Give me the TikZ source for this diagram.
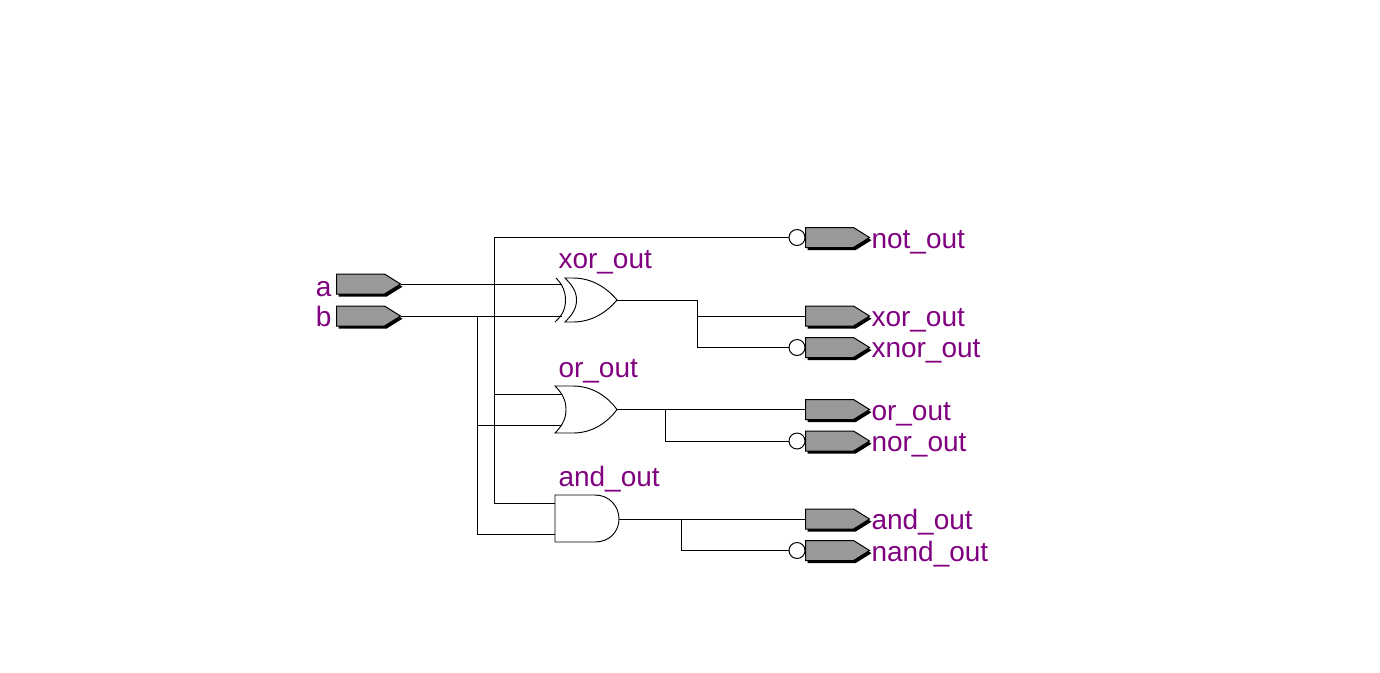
\documentclass[tikz,border=0pt]{standalone}
\usepackage{fontspec}
\setmainfont{Liberation Sans}
\usetikzlibrary{shapes.symbols,shadows}

\definecolor{netname}{RGB}{128,0,128}
\definecolor{portgray}{RGB}{153,153,153}

\begin{document}
\begin{tikzpicture}[x=0.75pt,y=-0.75pt,line width=0.75pt]
\tikzstyle{port}=[draw, fill=portgray, shape=signal, signal to=east, signal from=nowhere, signal pointer angle=64, minimum width=48pt, minimum height=15pt, inner sep=0pt, general shadow={fill=black, shadow xshift=1.5pt, shadow yshift=-2pt}]
\tikzstyle{bubble}=[draw, circle, minimum size=12pt, inner sep=0pt]
\tikzstyle{netlabel}=[text=netname, font=\fontsize{21}{21}\selectfont, inner sep=0pt]
\tikzstyle{gate}=[line width=0.7pt]

\useasboundingbox (0,0) rectangle (1380,672);

% inputs
\draw (336,284) node[port, anchor=west] (a) {};
\draw (336,316) node[port, anchor=west] (b) {};
\draw (332,296) node[netlabel, anchor=base east] (alabel) {a};
\draw (332,326) node[netlabel, anchor=base east] (blabel) {b};

% xor gate
\coordinate (xorin1) at (561.5,284);
\coordinate (xorin2) at (561.5,316);
\coordinate (xorout) at (617,300);
\draw[gate] (565,278) -- (573,278) .. controls (592,278) and (607,288) .. (xorout) .. controls (607,312) and (592,322) .. (573,322) -- (565,322) .. controls (573,314) and (576.5,308) .. (576.5,300) .. controls (576.5,292) and (573,286) .. cycle;
\draw[gate] (556,278) .. controls (563,285) and (565.5,292) .. (565.5,300) .. controls (565.5,308) and (563,315) .. (555,322);

% or gate
\coordinate (orin1) at (562,394);
\coordinate (orin2) at (562,425);
\coordinate (orout) at (617,409.5);
\draw[gate] (555,386) -- (573,386) .. controls (592,386) and (607,396) .. (orout) .. controls (607,423) and (592,433) .. (573,433) -- (555,433) .. controls (563,425) and (566,418) .. (566,409.5) .. controls (566,401) and (563,394) .. cycle;

% and gate
\coordinate (andin1) at (555,503.5);
\coordinate (andin2) at (555,534.5);
\coordinate (andout) at (619,519);
\draw[gate] (555,495) -- (595,495) .. controls (610,495) and (619,507) .. (andout) .. controls (619,531) and (610,542) .. (595,542) -- (555,542) -- cycle;

\draw (558,268) node[netlabel, anchor=base west] (xorlabel) {xor\_out};
\draw (558,377.5) node[netlabel, anchor=base west] (orlabel) {or\_out};
\draw (558,486.5) node[netlabel, anchor=base west] (andlabel) {and\_out};

% outputs
\draw (805,237.5) node[port, anchor=west] (notpin) {};
\draw (805,316) node[port, anchor=west] (xorpin) {};
\draw (805,347.5) node[port, anchor=west] (xnorpin) {};
\draw (805,409.5) node[port, anchor=west] (orpin) {};
\draw (805,441) node[port, anchor=west] (norpin) {};
\draw (805,519) node[port, anchor=west] (andpin) {};
\draw (805,550.5) node[port, anchor=west] (nandpin) {};

\draw (797,237.5) node[bubble] (notdot) {};
\draw (797,347.5) node[bubble] (xnordot) {};
\draw (797,441) node[bubble] (nordot) {};
\draw (797,550.5) node[bubble] (nanddot) {};

\draw (871,248) node[netlabel, anchor=base west] (notlabel) {not\_out};
\draw (871,326) node[netlabel, anchor=base west] (xorname) {xor\_out};
\draw (871,357) node[netlabel, anchor=base west] (xnorlabel) {xnor\_out};
\draw (871,420) node[netlabel, anchor=base west] (orname) {or\_out};
\draw (871,451) node[netlabel, anchor=base west] (norlabel) {nor\_out};
\draw (871,529) node[netlabel, anchor=base west] (andname) {and\_out};
\draw (871,561.5) node[netlabel, anchor=base west] (nandlabel) {nand\_out};

% wires from a
\draw (a.east) -- (xorin1);
\draw (notdot.west) -| (494,503.5) -- (andin1);
\draw (494,394) -- (orin1);

% wires from b
\draw (b.east) -- (xorin2);
\draw (477,316) |- (andin2);
\draw (477,425) -- (orin2);

% gate outputs
\draw (xorout) -| (697,316) -- (xorpin.west);
\draw (697,316) |- (xnordot.west);
\draw (orout) -- (orpin.west);
\draw (665,409.5) |- (nordot.west);
\draw (andout) -- (andpin.west);
\draw (681,519) |- (nanddot.west);
\end{tikzpicture}
\end{document}
